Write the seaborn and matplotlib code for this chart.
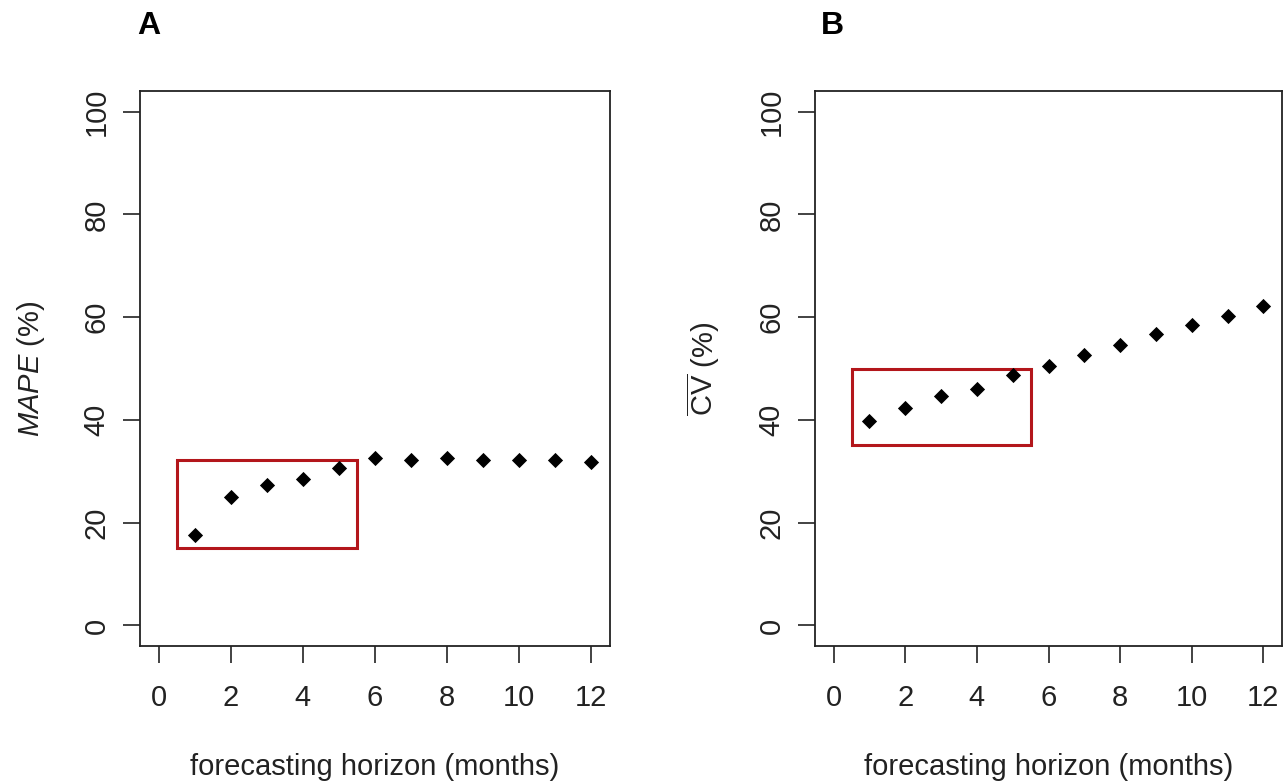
import matplotlib
matplotlib.use('Agg')
import matplotlib.pyplot as plt
from matplotlib.patches import Rectangle
import seaborn as sns
import pandas as pd

# data
horizon = [1, 2, 3, 4, 5, 6, 7, 8, 9, 10, 11, 12]
mape = [17.6, 24.9, 27.4, 28.5, 30.7, 32.6, 32.2, 32.6, 32.2, 32.2, 32.2, 31.8]
cv_mean = [39.8, 42.3, 44.7, 46.1, 48.7, 50.4, 52.7, 54.5, 56.7, 58.4, 60.3, 62.1]
x_ticks = [0, 2, 4, 6, 8, 10, 12]
y_ticks = [0, 20, 40, 60, 80, 100]
# highlighted region: x0, x1, y0, y1
box_a = [0.5, 5.5, 15, 32.2]
box_b = [0.5, 5.5, 35.2, 50]

sns.set_theme(style='white')
plt.rcParams['font.family'] = ['Liberation Sans', 'DejaVu Sans']
plt.rcParams['mathtext.fontset'] = 'custom'
plt.rcParams['mathtext.rm'] = 'Liberation Sans'
plt.rcParams['mathtext.it'] = 'Liberation Sans:italic'

df = pd.DataFrame({'horizon': horizon, 'mape': mape, 'cv': cv_mean})

fig = plt.figure(figsize=(12.84, 7.84), dpi=100)
ax_a = fig.add_axes([140 / 1284, 1 - 646 / 784, 470 / 1284, 555 / 784])
ax_b = fig.add_axes([815 / 1284, 1 - 646 / 784, 467 / 1284, 555 / 784])

txt = '#222222'
panels = [(ax_a, 'mape', box_a, r'$\mathit{MAPE}$ (%)', 'A'),
          (ax_b, 'cv', box_b, r'$\overline{\mathrm{CV}}$ (%)', 'B')]

for ax, col, box, ylab, tag in panels:
    sns.scatterplot(data=df, x='horizon', y=col, ax=ax, marker='D', s=60,
                    color='black', linewidth=0, zorder=3)
    ax.add_patch(Rectangle((box[0], box[2]), box[1] - box[0], box[3] - box[2],
                           fill=False, edgecolor='#B3161B', linewidth=2.2, zorder=2))
    ax.set_xlim(-0.52, 12.52)
    ax.set_ylim(-4, 104)
    ax.set_xticks(x_ticks)
    ax.set_yticks(y_ticks)
    ax.set_xticklabels([str(t) for t in x_ticks], fontsize=21, color=txt)
    ax.set_yticklabels([str(t) for t in y_ticks], fontsize=21, color=txt,
                       rotation=90, va='center')
    ax.tick_params(axis='both', direction='out', length=12, width=1.2,
                   color='#222222', bottom=True, left=True)
    ax.tick_params(axis='x', pad=15)
    ax.tick_params(axis='y', pad=9)
    for sp in ax.spines.values():
        sp.set_color('#222222')
        sp.set_linewidth(1.3)
        sp.set_visible(True)
    ax.set_xlabel('forecasting horizon (months)', fontsize=21, color=txt, labelpad=30)
    ax.set_ylabel(ylab, fontsize=21, color=txt, labelpad=26)
    ax.text(-0.005, 1.09, tag, transform=ax.transAxes, fontsize=23,
            fontweight='bold', color='black', ha='left', va='bottom')

ax_b.texts[0].set_position((0.012, 1.09))
fig.savefig('out.png', dpi=100, facecolor='white')
